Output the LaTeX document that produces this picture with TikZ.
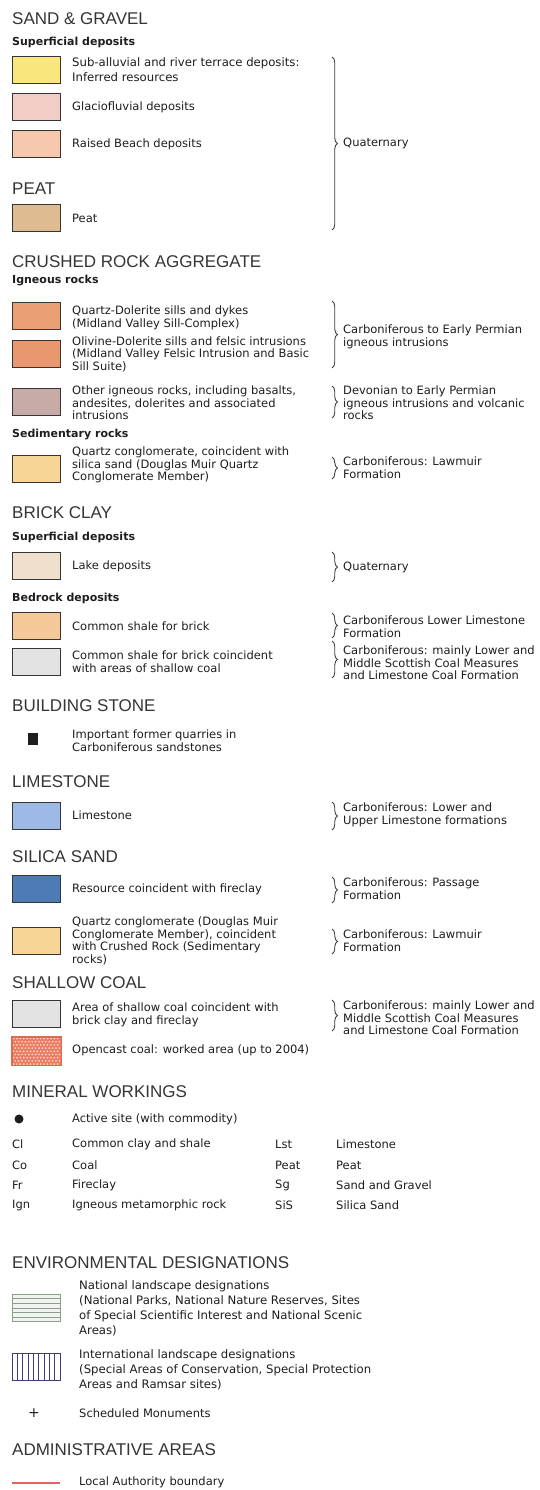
\documentclass[tikz,border=0pt]{standalone}
\usepackage{fontspec}
\setmainfont{DejaVu Sans}
\newfontfamily\headfont{Liberation Sans}
\usetikzlibrary{decorations.pathreplacing}
\definecolor{ink}{HTML}{1E1E1E}
\definecolor{cYel}{HTML}{F9E77E}
\definecolor{cGlac}{HTML}{F2CDC6}
\definecolor{cBeach}{HTML}{F6C9AF}
\definecolor{cPeat}{HTML}{DEBB90}
\definecolor{cQD}{HTML}{EAA072}
\definecolor{cOD}{HTML}{E8976E}
\definecolor{cIgn}{HTML}{C6ABA6}
\definecolor{cQC}{HTML}{F6D597}
\definecolor{cLake}{HTML}{EEE0CC}
\definecolor{cShale}{HTML}{F5C899}
\definecolor{cGrey}{HTML}{E3E3E3}
\definecolor{cLime}{HTML}{9DB9E5}
\definecolor{cSil}{HTML}{4C7BB5}
\definecolor{cOpen}{HTML}{EA7E62}
\definecolor{cOpenLine}{HTML}{E06A50}
\definecolor{cOpenDot}{HTML}{FBD9CE}
\definecolor{cNat}{HTML}{8E9E8C}
\definecolor{cInt}{HTML}{3E3E7A}
\definecolor{cRed}{HTML}{E06464}
\tikzset{
  head/.style={anchor=west, inner sep=0pt, text=ink!90, font=\headfont\fontsize{17bp}{18bp}\selectfont},
  subhead/.style={anchor=west, inner sep=0pt, text=ink, font=\bfseries\fontsize{11bp}{13bp}\selectfont},
  body/.style={anchor=west, inner sep=0pt, align=left, text=ink, font=\fontsize{11.5bp}{12.6bp}\selectfont},
  bodywide/.style={body, font=\fontsize{11.7bp}{15bp}\selectfont},
  swatch/.style={anchor=north west, inner sep=0pt, draw=ink!90, line width=1.2bp, minimum width=48bp, minimum height=27bp},
  brc/.style={decorate, decoration={brace, amplitude=5.5bp}, draw=ink!85, line width=0.9bp},
  hatchline/.style={line width=0.9bp},
}
\begin{document}
\begin{tikzpicture}[x=1bp,y=-1bp]
\fill[white] (0,0) rectangle (540,1490);
\useasboundingbox (0,0) rectangle (540,1490);

% ---------------- SAND & GRAVEL
\node[head] (hSG) at (12,19) {SAND \& GRAVEL};
\node[subhead] (sSup1) at (12,42) {Superficial deposits};
\node[swatch, fill=cYel] (sw1) at (12,56) {};
\node[bodywide] (t1) at (72,70) {Sub-alluvial and river terrace deposits:\\Inferred resources};
\node[swatch, fill=cGlac] (sw2) at (12,93) {};
\node[body] (t2) at (72,107) {Glaciofluvial deposits};
\node[swatch, fill=cBeach] (sw3) at (12,130) {};
\node[body] (t3) at (72,144) {Raised Beach deposits};
\node[head] (hPeat) at (12,189) {PEAT};
\node[swatch, fill=cPeat] (sw4) at (12,204) {};
\node[body] (t4) at (72,218) {Peat};
\coordinate (b1a) at (332,57);
\coordinate (b1b) at (332,230);
\draw[brc] (b1a) -- (b1b);
\node[body] (r1) at (343,143.5) {Quaternary};

% ---------------- CRUSHED ROCK
\node[head] (hCR) at (12,262) {CRUSHED ROCK AGGREGATE};
\node[subhead] (sIgn) at (12,281) {Igneous rocks};
\node[swatch, fill=cQD] (sw5) at (12,302) {};
\node[body] (t5) at (72,318) {Quartz-Dolerite sills and dykes\\(Midland Valley Sill-Complex)};
\node[swatch, fill=cOD] (sw6) at (12,340) {};
\node[body] (t6) at (72,354) {Olivine-Dolerite sills and felsic intrusions\\(Midland Valley Felsic Intrusion and Basic\\Sill Suite)};
\coordinate (b2a) at (332,301);
\coordinate (b2b) at (332,368);
\draw[brc] (b2a) -- (b2b);
\node[body] (r2) at (343,337) {Carboniferous to Early Permian\\igneous intrusions};
\node[swatch, fill=cIgn] (sw7) at (12,388) {};
\node[body] (t7) at (72,403) {Other igneous rocks, including basalts,\\andesites, dolerites and associated\\intrusions};
\coordinate (b3a) at (332,386);
\coordinate (b3b) at (332,418);
\draw[brc] (b3a) -- (b3b);
\node[body] (r3) at (343,403) {Devonian to Early Permian\\igneous intrusions and volcanic\\rocks};
\node[subhead] (sSed) at (12,435) {Sedimentary rocks};
\node[swatch, fill=cQC] (sw8) at (12,455) {};
\node[body] (t8) at (72,465) {Quartz conglomerate, coincident with\\silica sand (Douglas Muir Quartz\\Conglomerate Member)};
\coordinate (b4a) at (332,457);
\coordinate (b4b) at (332,479);
\draw[brc] (b4a) -- (b4b);
\node[body] (r4) at (343,468) {Carboniferous: Lawmuir\\Formation};

% ---------------- BRICK CLAY
\node[head] (hBC) at (12,513) {BRICK CLAY};
\node[subhead] (sSup2) at (12,537) {Superficial deposits};
\node[swatch, fill=cLake] (sw9) at (12,552) {};
\node[body] (t9) at (72,566) {Lake deposits};
\coordinate (b5a) at (332,552);
\coordinate (b5b) at (332,582);
\draw[brc] (b5a) -- (b5b);
\node[body] (r5) at (343,567) {Quaternary};
\node[subhead] (sBed) at (12,598) {Bedrock deposits};
\node[swatch, fill=cShale] (sw10) at (12,612) {};
\node[body] (t10) at (72,626) {Common shale for brick};
\node[swatch, fill=cGrey] (sw11) at (12,648) {};
\node[body] (t11) at (72,662) {Common shale for brick coincident\\with areas of shallow coal};
\coordinate (b6a) at (332,613);
\coordinate (b6b) at (332,638);
\draw[brc] (b6a) -- (b6b);
\node[body] (r6) at (343,627) {Carboniferous Lower Limestone\\Formation};
\coordinate (b7a) at (332,641);
\coordinate (b7b) at (332,678);
\draw[brc] (b7a) -- (b7b);
\node[body] (r7) at (343,663) {Carboniferous: mainly Lower and\\Middle Scottish Coal Measures\\and Limestone Coal Formation};

% ---------------- BUILDING STONE
\node[head] (hBS) at (12,706) {BUILDING STONE};
\node[fill=ink, inner sep=0pt, minimum width=10bp, minimum height=12bp] (q1) at (33,739) {};
\node[body] (t12) at (72,741) {Important former quarries in\\Carboniferous sandstones};

% ---------------- LIMESTONE
\node[head] (hLS) at (12,782) {LIMESTONE};
\node[swatch, fill=cLime] (sw12) at (12,802) {};
\node[body] (t13) at (72,815) {Limestone};
\coordinate (b8a) at (332,802);
\coordinate (b8b) at (332,830);
\draw[brc] (b8a) -- (b8b);
\node[body] (r8) at (343,815) {Carboniferous: Lower and\\Upper Limestone formations};

% ---------------- SILICA SAND
\node[head] (hSS) at (12,857) {SILICA SAND};
\node[swatch, fill=cSil] (sw13) at (12,875) {};
\node[body] (t14) at (72,889) {Resource coincident with fireclay};
\coordinate (b9a) at (332,877);
\coordinate (b9b) at (332,903);
\draw[brc] (b9a) -- (b9b);
\node[body] (r9) at (343,889) {Carboniferous: Passage\\Formation};
\node[swatch, fill=cQC] (sw14) at (12,927) {};
\node[body] (t15) at (72,941) {Quartz conglomerate (Douglas Muir\\Conglomerate Member), coincident\\with Crushed Rock (Sedimentary\\rocks)};
\coordinate (b10a) at (332,929);
\coordinate (b10b) at (332,954);
\draw[brc] (b10a) -- (b10b);
\node[body] (r10) at (343,941) {Carboniferous: Lawmuir\\Formation};

% ---------------- SHALLOW COAL
\node[head] (hSC) at (12,983) {SHALLOW COAL};
\node[swatch, fill=cGrey] (sw15) at (12,1000) {};
\node[body] (t16) at (72,1015) {Area of shallow coal coincident with\\brick clay and fireclay};
\coordinate (b11a) at (332,1000);
\coordinate (b11b) at (332,1031);
\draw[brc] (b11a) -- (b11b);
\node[body] (r11) at (343,1018) {Carboniferous: mainly Lower and\\Middle Scottish Coal Measures\\and Limestone Coal Formation};
\node[swatch, draw=none, fill=cOpen] (sw16) at (12,1037) {};
\begin{scope}
  \clip (12,1037) rectangle (60,1064);
  \foreach \r in {0,...,8} {
    \foreach \c in {0,...,14} {
      \fill[cOpenDot] ({13.5+\c*3.4+mod(\r,2)*1.7},{1038.5+\r*3.2}) circle (0.95bp);
    }
  }
\end{scope}
\draw[cOpenLine, line width=1.2bp] (sw16.north west) rectangle (sw16.south east);
\node[body] (t17) at (72,1050) {Opencast coal: worked area (up to 2004)};

% ---------------- MINERAL WORKINGS
\node[head] (hMW) at (12,1092) {MINERAL WORKINGS};
\node[circle, fill=ink, inner sep=0pt, minimum size=9bp] (dot) at (19,1119) {};
\node[body] (t18) at (72,1119) {Active site (with commodity)};
\node[body] (m1a) at (12,1144) {Cl};
\node[body] (m1b) at (72,1144) {Common clay and shale};
\node[body] (m1c) at (275,1144) {Lst};
\node[body] (m1d) at (336,1144) {Limestone};
\node[body] (m2a) at (12,1165) {Co};
\node[body] (m2b) at (72,1165) {Coal};
\node[body] (m2c) at (275,1165) {Peat};
\node[body] (m2d) at (336,1165) {Peat};
\node[body] (m3a) at (12,1185) {Fr};
\node[body] (m3b) at (72,1185) {Fireclay};
\node[body] (m3c) at (275,1185) {Sg};
\node[body] (m3d) at (336,1185) {Sand and Gravel};
\node[body] (m4a) at (12,1205) {Ign};
\node[body] (m4b) at (72,1205) {Igneous metamorphic rock};
\node[body] (m4c) at (275,1205) {SiS};
\node[body] (m4d) at (336,1205) {Silica Sand};

% ---------------- ENVIRONMENTAL DESIGNATIONS
\node[head] (hED) at (12,1263) {ENVIRONMENTAL DESIGNATIONS};
\node[swatch, draw=cNat, line width=1bp, fill=cNat!12] (sw17) at (12,1294) {};
\foreach \k in {1,...,5}
  \draw[hatchline, cNat] (12,1294+\k*4.67) -- (60,1294+\k*4.67);
\node[bodywide] (t19) at (79,1308) {National landscape designations\\(National Parks, National Nature Reserves, Sites\\of Special Scientific Interest and National Scenic\\Areas)};
\node[swatch, draw=cInt, line width=1bp, fill=white] (sw18) at (12,1353) {};
\foreach \k in {1,...,8}
  \draw[hatchline, cInt] (12+\k*5.33,1353) -- (12+\k*5.33,1380);
\node[bodywide] (t20) at (79,1370) {International landscape designations\\(Special Areas of Conservation, Special Protection\\Areas and Ramsar sites)};
\node[inner sep=0pt, font=\fontsize{14bp}{14bp}\selectfont, text=ink] (plus) at (34,1413) {+};
\node[body] (t21) at (79,1413) {Scheduled Monuments};

% ---------------- ADMINISTRATIVE AREAS
\node[head] (hAA) at (12,1450) {ADMINISTRATIVE AREAS};
\coordinate (la) at (12,1483);
\coordinate (lb) at (60,1483);
\draw[cRed, line width=1.2bp] (la) -- (lb);
\node[body] (t22) at (79,1482) {Local Authority boundary};
\end{tikzpicture}
\end{document}
